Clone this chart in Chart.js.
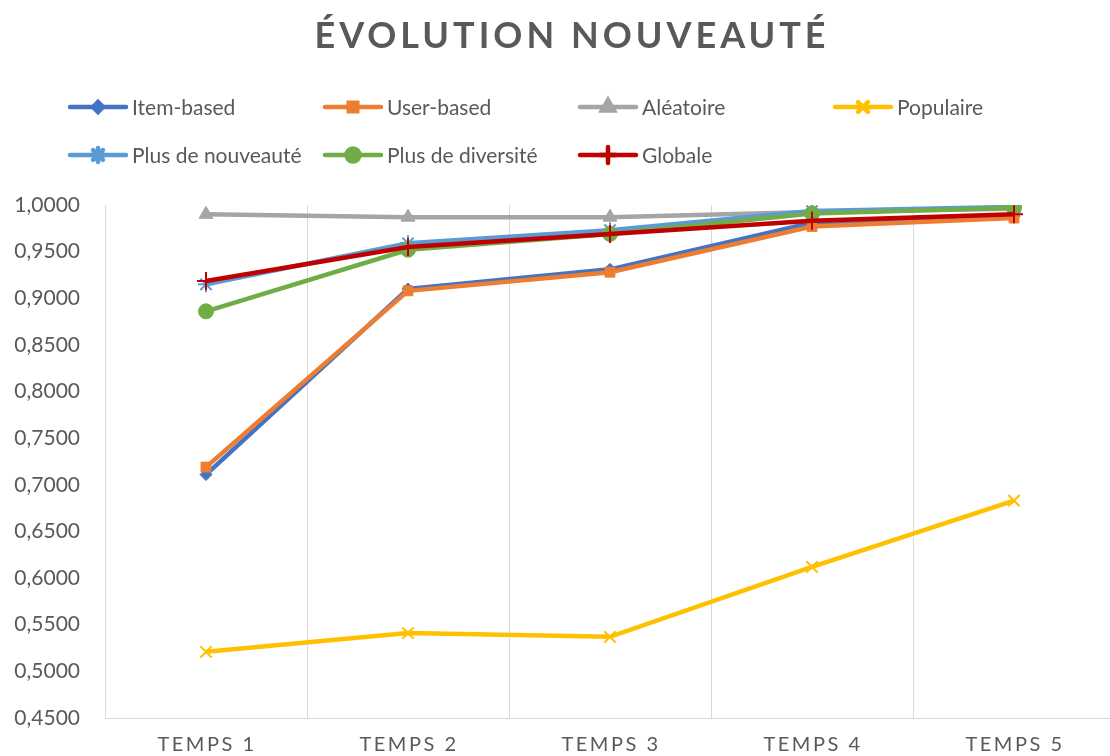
<!DOCTYPE html>
<html lang="fr">
<head>
  <meta charset="UTF-8">
  <title>Évolution nouveauté</title>
  <script src="https://cdn.jsdelivr.net/npm/chart.js"></script>
  <style>
    html, body { margin: 0; padding: 0; background: #fff; overflow: hidden; }
    #chart-container { width: 1110px; height: 756px; position: relative; overflow: hidden; }
    #chart { display: block; }
  </style>
</head>
<body>
  <div id="chart-container">
    <!-- un peu plus large que la fenêtre : la dernière colonne déborde à droite -->
    <canvas id="chart" width="1126" height="756"></canvas>
  </div>

  <script>
    // Données : nouveauté moyenne par étape
    const categories = ['TEMPS 1', 'TEMPS 2', 'TEMPS 3', 'TEMPS 4', 'TEMPS 5'];
    const itemBased  = [0.711, 0.910, 0.931, 0.981, 0.988];
    const userBased  = [0.719, 0.908, 0.928, 0.977, 0.986];
    const aleatoire  = [0.990, 0.987, 0.987, 0.9925, 0.996];
    const populaire  = [0.521, 0.541, 0.537, 0.612, 0.683];
    const nouveaute  = [0.915, 0.959, 0.973, 0.9935, 0.998];
    const diversite  = [0.886, 0.952, 0.969, 0.991, 0.997];
    const globale    = [0.9185, 0.955, 0.969, 0.983, 0.990];

    const seriesNames = ['Item-based', 'User-based', 'Aléatoire', 'Populaire',
                         'Plus de nouveauté', 'Plus de diversité', 'Globale'];
    const seriesData  = [itemBased, userBased, aleatoire, populaire,
                         nouveaute, diversite, globale];
    const colors  = ['#4472C4', '#ED7D31', '#A5A5A5', '#FFC000', '#5B9BD5', '#70AD47', '#C00000'];
    const markers = ['rectRot', 'rect', 'triangle', 'crossRot', 'star', 'circle', 'cross'];
    const radii   = [6, 7, 8, 8, 8, 7.5, 9];

    const FONT = 'Lato, "Open Sans", sans-serif';
    const TEXT = '#595959';

    const isOpen = i => ['crossRot', 'star', 'cross'].includes(markers[i]);

    const datasets = seriesNames.map((name, i) => ({
      label: name,
      data: seriesData[i],
      borderColor: colors[i],
      backgroundColor: colors[i],
      borderWidth: 4.5,
      pointStyle: markers[i],
      pointRadius: radii[i],
      pointBorderWidth: isOpen(i) ? 2 : 1,
      pointBackgroundColor: colors[i],
      pointBorderColor: colors[i],
      tension: 0,
      // la dernière série est dessinée au-dessus
      order: seriesNames.length - i
    }));

    // Titre + légende en grille de 4 colonnes + étiquettes espacées de l'axe X
    const headerPlugin = {
      id: 'header',
      afterDraw(chart) {
        const ctx = chart.ctx;
        const hasSpacing = 'letterSpacing' in ctx;
        ctx.save();
        ctx.fillStyle = TEXT;
        ctx.textAlign = 'center';
        ctx.textBaseline = 'middle';
        ctx.font = `bold 36px ${FONT}`;
        if (hasSpacing) ctx.letterSpacing = '4px';
        ctx.fillText('ÉVOLUTION NOUVEAUTÉ', 572, 36);
        if (hasSpacing) ctx.letterSpacing = '0px';

        ctx.font = `21px ${FONT}`;
        ctx.textAlign = 'left';
        seriesNames.forEach((name, i) => {
          const col = i < 4 ? i : i - 4;
          const row = i < 4 ? 0 : 1;
          const x0 = 70 + col * 255;
          const y0 = 107 + row * 48;
          ctx.strokeStyle = colors[i];
          ctx.lineWidth = 4.5;
          ctx.lineCap = 'round';
          ctx.beginPath();
          ctx.moveTo(x0, y0);
          ctx.lineTo(x0 + 56, y0);
          ctx.stroke();
          ctx.fillStyle = colors[i];
          Chart.helpers.drawPoint(ctx, {
            pointStyle: markers[i],
            radius: radii[i] - 1,
            borderWidth: isOpen(i) ? 2 : 1
          }, x0 + 28, y0);
          ctx.fillStyle = TEXT;
          ctx.fillText(name, x0 + 62, y0 + 1);
        });

        const xs = chart.scales.x;
        ctx.font = `20px ${FONT}`;
        ctx.textAlign = 'center';
        if (hasSpacing) ctx.letterSpacing = '2.5px';
        categories.forEach((c, i) => {
          ctx.fillText(xs.getLabelForValue(i), xs.getPixelForValue(i) + 1, 745);
        });
        ctx.restore();
      }
    };

    new Chart(document.getElementById('chart').getContext('2d'), {
      type: 'line',
      data: { labels: categories, datasets },
      plugins: [headerPlugin],
      options: {
        responsive: false,
        animation: false,
        layout: { padding: { top: 205, left: 0, right: 0, bottom: 0 } },
        plugins: {
          legend: { display: false },
          title: { display: false },
          tooltip: { enabled: false }
        },
        scales: {
          x: {
            offset: true,
            grid: { offset: true, color: '#D9D9D9', lineWidth: 1, drawTicks: false },
            border: { color: '#D9D9D9', width: 1 },
            ticks: { display: false },
            afterFit: s => { s.height = 38; }
          },
          y: {
            min: 0.45,
            max: 1.0,
            grid: { display: false, drawTicks: false },
            border: { display: true, color: '#D9D9D9', width: 1 },
            ticks: {
              stepSize: 0.05,
              padding: 25,
              color: TEXT,
              font: { family: FONT, size: 21 },
              callback: v => v.toFixed(4).replace('.', ',')
            },
            afterFit: s => { s.width = 105; }
          }
        }
      }
    });
  </script>
</body>
</html>
